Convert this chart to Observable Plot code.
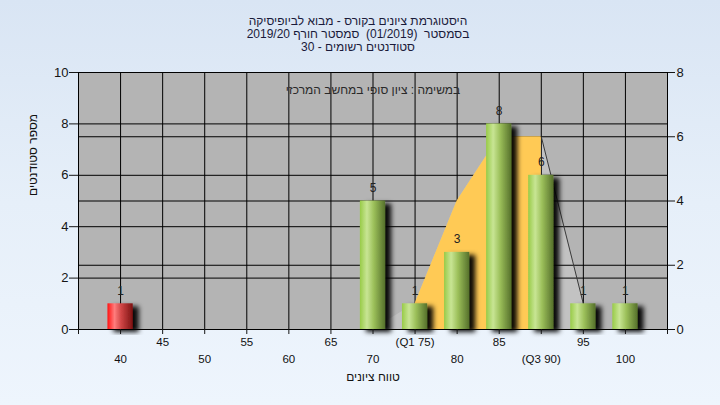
<!DOCTYPE html>
<html><head><meta charset="utf-8">
<script src="https://cdn.jsdelivr.net/npm/d3@7"></script>
<script src="https://cdn.jsdelivr.net/npm/@observablehq/plot@0.6"></script>
<style>
html,body{margin:0;padding:0;}
body{width:720px;height:405px;overflow:hidden;background:linear-gradient(180deg,#d9e5f4 0%,#e6eff9 50%,#eef5fd 100%);font-family:"Liberation Sans","DejaVu Sans",sans-serif;}
#chart svg{display:block;}
</style></head><body><div id="chart"></div><script>
// ---- data ----
const grades = [40, 45, 50, 55, 60, 65, 70, 75, 80, 85, 90, 95, 100];
const counts = [1, 0, 0, 0, 0, 0, 5, 1, 3, 8, 6, 1, 1];
const failBelow = 55;
const curveX = [70, 75, 80, 85, 90, 95];
const curveY = [0, 1, 5, 7.5, 7.5, 1];
const q1 = 75, q3 = 90;
const upperTickValues = [45, 55, 65, 75, 85, 95];
const upperTickLabels = ["45", "55", "65", "(Q1 75)", "85", "95"];
const lowerTickValues = [40, 50, 60, 70, 80, 90, 100];
const lowerTickLabels = ["40", "50", "60", "70", "80", "(Q3 90)", "100"];
const axisTicks = [35, 40, 45, 50, 55, 60, 65, 70, 75, 80, 85, 90, 95, 100, 105];
const leftTicks = [0, 2, 4, 6, 8, 10];
const rightTicks = [0, 2, 4, 6, 8];
const leftMax = 10, rightMax = 8;
const title1 = "היסטוגרמת ציונים בקורס - מבוא לביופיסיקה";
const title2 = "בסמסטר  (01/2019)  סמסטר חורף 2019/20";
const title3 = "30 - סטודנטים רשומים";
const note = "במשימה : ציון סופי במחשב המרכזי";
const xTitle = "טווח ציונים";
const yTitle = "מספר סטודנטים";

// ---- derived tables ----
const bars = grades.map((g, i) => ({grade: g, count: counts[i]})).filter(d => d.count > 0);
const curve = curveX.map((x, i) => ({x, y: curveY[i]}));
const iqr = curve.filter(d => d.x >= q1 && d.x <= q3);
const tail = curve.filter(d => d.x >= q3);
const rightAsLeft = rightTicks.map(v => v * leftMax / rightMax);
const gridY = [...leftTicks.filter(v => v > 0 && v < leftMax), ...rightAsLeft.filter(v => v > 0 && v < leftMax)];
const upper = upperTickValues.map((v, i) => ({x: v, t: upperTickLabels[i]}));
const lower = lowerTickValues.map((v, i) => ({x: v, t: lowerTickLabels[i]}));
const halfW = 1.5;
const titleFont = {frameAnchor: "top", dx: -15, fontSize: 12, fill: "#1a1a3a", ariaLabel: "rtl"};

const plot = Plot.plot({
  width: 720, height: 405,
  marginLeft: 78, marginRight: 53, marginTop: 72, marginBottom: 76,
  style: {background: "transparent", color: "#151515", fontFamily: "'Liberation Sans','DejaVu Sans',sans-serif", fontSize: "12px", overflow: "visible"},
  x: {domain: [35, 105], axis: null},
  y: {domain: [0, leftMax], axis: null},
  marks: [
    Plot.frame({fill: "#b4b4b4", stroke: null}),
    Plot.areaY(curve, {x: "x", y: "y", fill: "#c2c2c2"}),
    Plot.ruleY(gridY, {stroke: "#000", strokeWidth: 1}),
    Plot.ruleX(grades, {stroke: "#000", strokeWidth: 1}),
    Plot.areaY(iqr, {x: "x", y: "y", fill: "#ffca55"}),
    Plot.line(tail, {x: "x", y: "y", stroke: "#3a3a3a", strokeWidth: 1}),
    Plot.rectY(bars.filter(d => d.grade < failBelow), {x1: d => d.grade - halfW, x2: d => d.grade + halfW, y: "count", fill: "url(#gradRed)"}),
    Plot.rectY(bars.filter(d => d.grade >= failBelow), {x1: d => d.grade - halfW, x2: d => d.grade + halfW, y: "count", fill: "url(#gradGreen)"}),
    Plot.text(bars, {x: "grade", y: "count", text: d => String(d.count), dy: -13, fill: "#222", fontSize: 12}),
    Plot.frame({stroke: "#000", fill: null}),
    Plot.axisY(leftTicks, {anchor: "left", tickSize: 9, tickPadding: 1, fontSize: 13, label: null}),
    Plot.axisY(rightAsLeft, {anchor: "right", tickSize: 7, tickPadding: 2, fontSize: 13, label: null, tickFormat: d => String(Math.round(d * rightMax / leftMax))}),
    Plot.axisX(axisTicks, {anchor: "bottom", tickSize: 5, tickFormat: () => "", label: null}),
    Plot.text(upper, {x: "x", text: "t", frameAnchor: "bottom", dy: 16, fontSize: 11.5, fill: "#111"}),
    Plot.text(lower, {x: "x", text: "t", frameAnchor: "bottom", dy: 33, fontSize: 11.5, fill: "#111"}),
    Plot.text([xTitle], {text: d => d, frameAnchor: "bottom", dy: 51, fontSize: 12, fill: "#111", ariaLabel: "rtl"}),
    Plot.text([yTitle], {text: d => d, frameAnchor: "left", dx: -45, dy: -5, rotate: -90, fontSize: 12, fill: "#111", ariaLabel: "rtl"}),
    Plot.text([note], {text: d => d, frameAnchor: "top", dy: 13, fontSize: 12, fill: "#2a2a2a", ariaLabel: "rtl"}),
    Plot.text([title1], {text: d => d, ...titleFont, dy: -56}),
    Plot.text([title2], {text: d => d, ...titleFont, dy: -43}),
    Plot.text([title3], {text: d => d, ...titleFont, dy: -30})
  ]
});

const svg = d3.select(plot);
const defs = svg.insert("defs", ":first-child");
const g1 = defs.append("linearGradient").attr("id", "gradGreen").attr("x1", "0").attr("x2", "1").attr("y1", "0").attr("y2", "0");
[["0%", "#98cb48"], ["28%", "#c8e594"], ["55%", "#9cc05a"], ["100%", "#55702b"]].forEach(([o, c]) => g1.append("stop").attr("offset", o).attr("stop-color", c));
const g2 = defs.append("linearGradient").attr("id", "gradRed").attr("x1", "0").attr("x2", "1").attr("y1", "0").attr("y2", "0");
[["0%", "#ff1414"], ["28%", "#ff7c7c"], ["55%", "#cf4444"], ["100%", "#7c1212"]].forEach(([o, c]) => g2.append("stop").attr("offset", o).attr("stop-color", c));
const f = defs.append("filter").attr("id", "shadow").attr("x", "-50%").attr("y", "-20%").attr("width", "220%").attr("height", "140%");
f.append("feDropShadow").attr("dx", 6).attr("dy", 3).attr("stdDeviation", 2.5).attr("flood-color", "#000").attr("flood-opacity", 0.95);
svg.selectAll("rect").filter(function () {
  const fl = this.getAttribute("fill") || (this.parentNode && this.parentNode.getAttribute("fill")) || "";
  return fl.startsWith("url(");
}).attr("filter", "url(#shadow)");
svg.selectAll('g[aria-label="rtl"] text').attr("direction", "rtl").style("unicode-bidi", "plaintext");
document.getElementById("chart").appendChild(plot);
</script></body></html>
